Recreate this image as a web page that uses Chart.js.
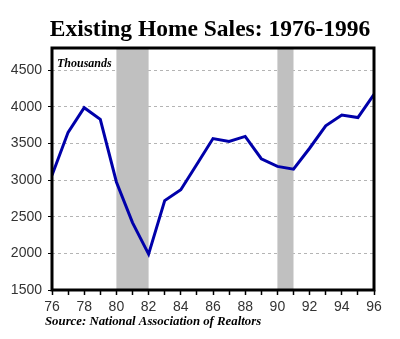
<!doctype html>
<html lang="en">
<head>
    <meta charset="UTF-8" />
    <title>Existing Home Sales</title>
    <style>
        body { margin: 0; background: #fff; }
        .chart-container { position: relative; width: 400px; height: 339px; }
    </style>
</head>
<body>
    <div class="chart-container">
        <canvas id="salesChart" width="400" height="339"></canvas>
    </div>

    <script src="https://cdn.jsdelivr.net/npm/chart.js"></script>
    <script>
        // Existing home sales, thousands
        const years = [76, 77, 78, 79, 80, 81, 82, 83, 84, 85, 86, 87, 88, 89, 90, 91, 92, 93, 94, 95, 96];
        const sales = [3064, 3650, 3986, 3827, 2973, 2419, 1990, 2719, 2868, 3214, 3565, 3526, 3594, 3290, 3186, 3147, 3433, 3739, 3886, 3852, 4167];
        const yTicks = [1500, 2000, 2500, 3000, 3500, 4000, 4500];
        // recession bands, [start, end] in years
        const recessions = [[80, 82], [90, 91]];

        const boxPlugin = {
            id: 'box',
            beforeDatasetsDraw(chart) {
                const { ctx, chartArea: a, scales: { x } } = chart;
                ctx.save();
                ctx.fillStyle = '#c0c0c0';
                recessions.forEach(([s, e]) => {
                    const x1 = x.getPixelForValue(s), x2 = x.getPixelForValue(e);
                    ctx.fillRect(x1, a.top, x2 - x1, a.bottom - a.top);
                });
                ctx.restore();
            },
            afterDraw(chart) {
                const { ctx, chartArea: a } = chart;
                ctx.save();
                ctx.strokeStyle = '#000';
                ctx.lineWidth = 3;
                ctx.strokeRect(a.left, a.top, a.right - a.left, a.bottom - a.top);
                ctx.fillStyle = '#000';
                ctx.textAlign = 'center';
                ctx.textBaseline = 'alphabetic';
                ctx.font = 'bold 23.5px "Liberation Serif"';
                ctx.fillText('Existing Home Sales: 1976-1996', 210, 36);
                ctx.textAlign = 'left';
                ctx.font = 'bold italic 12px "Liberation Serif"';
                ctx.fillText('Thousands', 57, 67);
                ctx.font = 'bold italic 12.8px "Liberation Serif"';
                ctx.fillText('Source: National Association of Realtors', 45, 325);
                ctx.restore();
            }
        };

        new Chart(document.getElementById('salesChart'), {
            type: 'line',
            data: {
                datasets: [{
                    data: years.map((y, i) => ({ x: y, y: sales[i] })),
                    borderColor: '#0000aa',
                    borderWidth: 3,
                    pointRadius: 0,
                    tension: 0,
                    fill: false
                }]
            },
            options: {
                responsive: false,
                animation: false,
                layout: { padding: { left: 0, right: 26, top: 48, bottom: 0 } },
                plugins: { legend: { display: false }, tooltip: { enabled: false } },
                scales: {
                    x: {
                        type: 'linear',
                        min: 76,
                        max: 96,
                        afterFit: s => { s.height = 49; },
                        ticks: {
                            stepSize: 1,
                            autoSkip: false,
                            maxRotation: 0,
                            padding: 4,
                            color: '#333',
                            font: { family: 'Liberation Sans', size: 14 },
                            callback: v => (v % 2 === 0 ? String(v) : '')
                        },
                        grid: { drawOnChartArea: false, tickLength: 5, tickColor: '#000', tickWidth: 1.5 },
                        border: { display: false }
                    },
                    y: {
                        min: 1500,
                        max: 4800,
                        afterFit: s => { s.width = 52; },
                        afterBuildTicks: s => { s.ticks = yTicks.map(v => ({ value: v })); },
                        ticks: {
                            padding: 6,
                            color: '#333',
                            font: { family: 'Liberation Sans', size: 14 },
                            callback: v => String(v)
                        },
                        grid: { color: '#b4b4b4', tickColor: '#000', tickLength: 4, tickWidth: 1 },
                        border: { display: false, dash: [3, 3] }
                    }
                }
            },
            plugins: [boxPlugin]
        });
    </script>
</body>
</html>
